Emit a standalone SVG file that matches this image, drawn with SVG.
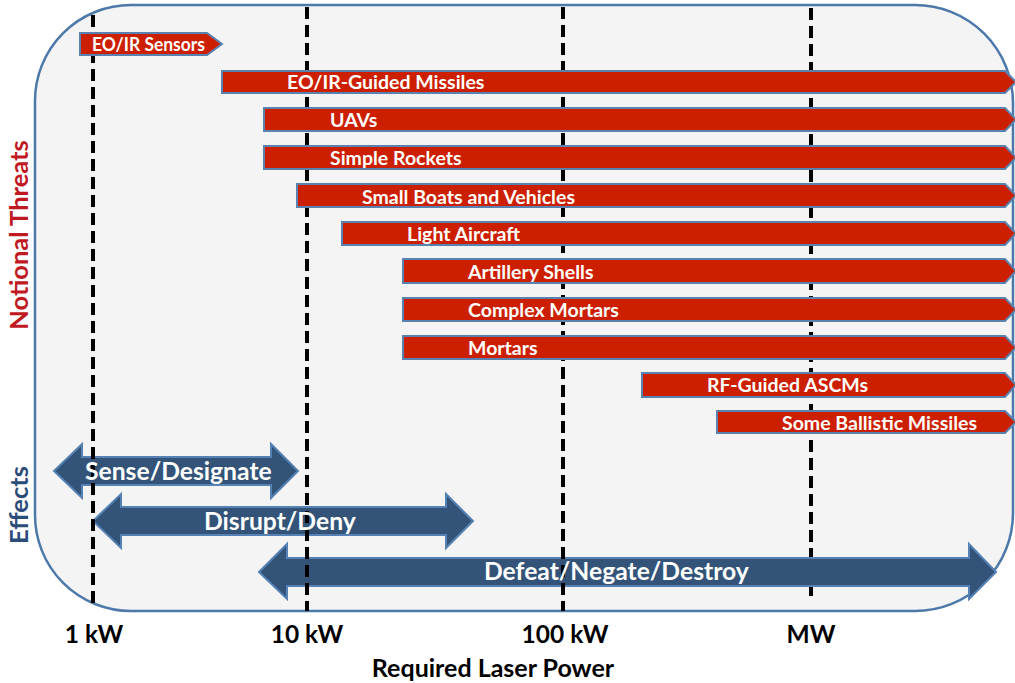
<svg xmlns="http://www.w3.org/2000/svg" width="1015" height="683" viewBox="0 0 1015 683">
<style>
.box{fill:#f4f4f4;stroke:#4d79aa;stroke-width:2.5}
.dash{stroke:#000;stroke-width:4;stroke-dasharray:12 6;fill:none}
.bar{fill:#cc1f00;stroke:#5a82b0;stroke-width:2}
.bt{font-family:Lato,"Open Sans",sans-serif;font-weight:bold;font-size:19.5px;fill:#fff}
.eff{fill:#335478;stroke:#5581b4;stroke-width:2}
.et{font-family:Lato,"Open Sans",sans-serif;font-weight:bold;font-size:24.7px;fill:#fff}
.ax{font-family:Lato,"Open Sans",sans-serif;font-weight:bold;font-size:24.5px;fill:#000}
.vt{font-family:Lato,"Open Sans",sans-serif;font-weight:bold;font-size:25.5px}
</style>
<path class="box" d="M131,5 H915 A98,98 0 0 1 1013,103 V513 A98,98 0 0 1 915,611 H131 A96,96 0 0 1 35,515 V101 A96,96 0 0 1 131,5 Z"/>
<g id="grid-mw"><line class="dash" x1="811" y1="8" x2="811" y2="602"/></g>
<g id="effects">
<path id="sense" class="eff" d="M54,471 L82,444 L82,457 L271,457 L271,444 L298,471 L271,498 L271,485 L82,485 L82,498 Z"/>
<path id="disrupt" class="eff" d="M93,521 L121,494 L121,507 L446,507 L446,494 L473,521 L446,548 L446,535 L121,535 L121,548 Z"/>
<path id="defeat" class="eff" d="M259,572 L287,544 L287,558 L969,558 L969,544 L996,572 L969,599 L969,586 L287,586 L287,599 Z"/>
</g>
<g id="grid">
<line class="dash" x1="93" y1="15" x2="93" y2="606"/>
<line class="dash" x1="307" y1="7" x2="307" y2="611"/>
<line class="dash" x1="563" y1="7" x2="563" y2="611"/>
</g>
<g id="effect-labels">
<text class="et" x="85" y="480">Sense/Designate</text>
<text class="et" x="204" y="530">Disrupt/Deny</text>
<text class="et" x="484" y="580">Defeat/Negate/Destroy</text>
</g>
<g id="threats">
<g id="eo-sensors"><path class="bar" d="M80,33 L207,33 L222,44 L207,55 L80,55 Z"/><text class="bt" x="92" y="51" textLength="113" lengthAdjust="spacingAndGlyphs">EO/IR Sensors</text></g>
<g id="eo-missiles"><path class="bar" d="M222,71 L1005,71 L1016,82 L1005,93 L222,93 Z"/><text class="bt" x="287" y="89">EO/IR-Guided Missiles</text></g>
<g id="uavs"><path class="bar" d="M264,108 L1005,108 L1016,119.5 L1005,131 L264,131 Z"/><text class="bt" x="330" y="126.5">UAVs</text></g>
<g id="rockets"><path class="bar" d="M264,146 L1005,146 L1016,157.5 L1005,169 L264,169 Z"/><text class="bt" x="330" y="164.5">Simple Rockets</text></g>
<g id="boats"><path class="bar" d="M297,184 L1005,184 L1016,195.5 L1005,207 L297,207 Z"/><text class="bt" x="362" y="203.5">Small Boats and Vehicles</text></g>
<g id="aircraft"><path class="bar" d="M342,222 L1005,222 L1016,233.5 L1005,245 L342,245 Z"/><text class="bt" x="407" y="241">Light Aircraft</text></g>
<g id="artillery"><path class="bar" d="M403,259 L1005,259 L1016,271 L1005,283 L403,283 Z"/><text class="bt" x="468" y="279">Artillery Shells</text></g>
<g id="complex"><path class="bar" d="M403,298 L1005,298 L1016,309.5 L1005,321 L403,321 Z"/><text class="bt" x="468" y="317">Complex Mortars</text></g>
<g id="mortars"><path class="bar" d="M403,336 L1005,336 L1016,347.5 L1005,359 L403,359 Z"/><text class="bt" x="468" y="355">Mortars</text></g>
<g id="ascm"><path class="bar" d="M642,373 L1005,373 L1016,385 L1005,397 L642,397 Z"/><text class="bt" x="707" y="392">RF-Guided ASCMs</text></g>
<g id="ballistic"><path class="bar" d="M717,411 L1005,411 L1016,422 L1005,433 L717,433 Z"/><text class="bt" x="782" y="430">Some Ballistic Missiles</text></g>
</g>
<g id="labels">
<text class="vt" fill="#c0191f" transform="translate(28,235) rotate(-90)" text-anchor="middle">Notional Threats</text>
<text class="vt" fill="#2c4d7a" transform="translate(28,505) rotate(-90)" text-anchor="middle">Effects</text>
<text class="ax" x="94" y="643" text-anchor="middle">1 kW</text>
<text class="ax" x="307" y="643" text-anchor="middle">10 kW</text>
<text class="ax" x="565" y="643" text-anchor="middle">100 kW</text>
<text class="ax" x="811" y="643" text-anchor="middle">MW</text>
<text class="ax" x="493" y="677" text-anchor="middle" style="font-size:25px">Required Laser Power</text>
</g>
</svg>
